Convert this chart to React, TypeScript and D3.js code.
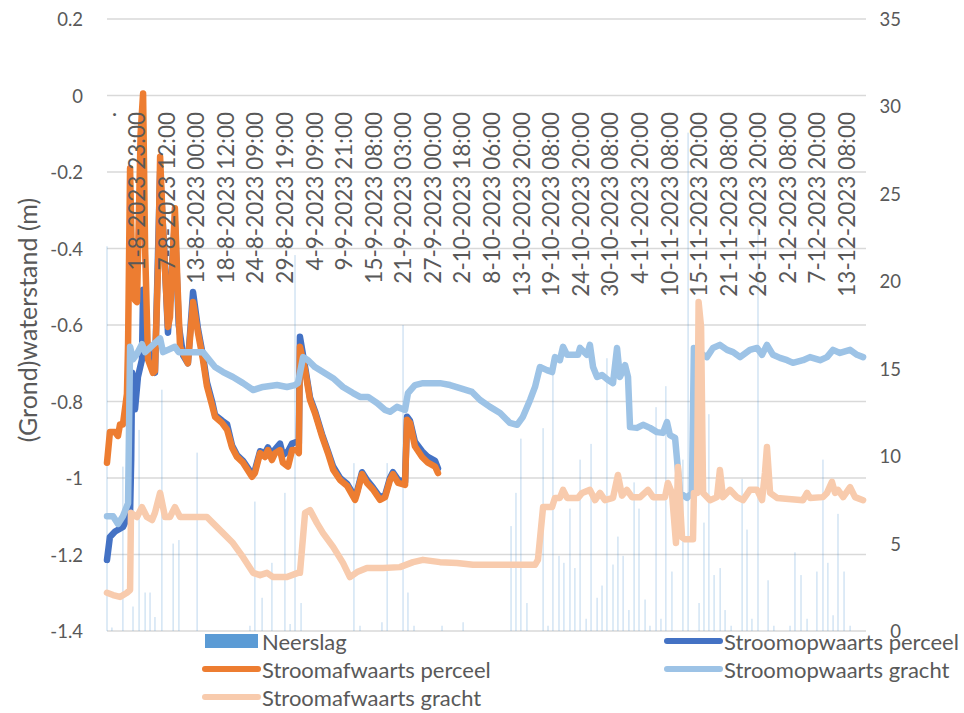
import React from 'react';
import * as d3 from 'd3';

const W = 964;
const H = 713;
const N_CAT = 3387;
const LABEL_STEP = 132;

const xLabels = [
  '.', '1-8-2023 23:00', '7-8-2023 12:00', '13-8-2023 00:00', '18-8-2023 12:00', '24-8-2023 09:00',
  '29-8-2023 19:00', '4-9-2023 09:00', '9-9-2023 21:00', '15-9-2023 08:00', '21-9-2023 03:00',
  '27-9-2023 00:00', '2-10-2023 18:00', '8-10-2023 06:00', '13-10-2023 20:00', '19-10-2023 08:00',
  '24-10-2023 20:00', '30-10-2023 08:00', '4-11-2023 20:00', '10-11-2023 08:00', '15-11-2023 20:00',
  '21-11-2023 08:00', '26-11-2023 20:00', '2-12-2023 08:00', '7-12-2023 20:00', '13-12-2023 08:00',
];
const leftTicks = [0.2, 0, -0.2, -0.4, -0.6, -0.8, -1, -1.2, -1.4];
const rightTicks = [0, 5, 10, 15, 20, 25, 30, 35];

// Neerslag (mm) per category index
const rainCat = [0, 22, 71, 116, 143, 170, 192, 214, 245, 295, 321, 402, 638, 660, 692, 736, 794, 817, 839, 866,
  1102, 1129, 1227, 1250, 1321, 1343, 1370, 1495, 1589, 1803, 1825, 1847, 1874, 1946, 1968, 1990, 2017, 2039,
  2066, 2088, 2111, 2138, 2160, 2187, 2209, 2231, 2258, 2280, 2303, 2329, 2352, 2374, 2401, 2423, 2450, 2472,
  2494, 2521, 2570, 2593, 2642, 2664, 2686, 2709, 2736, 2758, 2785, 2834, 2856, 2878, 2905, 2950, 2976, 3048,
  3070, 3097, 3124, 3168, 3195, 3217, 3240, 3262, 3289, 3316];
const rainMm = [22, 0.2, 9.4, 1.4, 11.5, 2.2, 2.2, 0.8, 13.8, 5.0, 5.2, 10.2, 0.3, 7.4, 1.9, 3.9, 7.9, 0.4, 21.5, 1.6,
  9.6, 0.3, 0.5, 9.6, 17.5, 2.2, 0.3, 0.3, 0.5, 6.0, 7.9, 11.0, 1.6, 11.6, 0.3, 14.9, 4.3, 3.9,
  7.0, 3.6, 9.8, 0.7, 10.7, 1.9, 2.6, 15.6, 3.8, 5.4, 4.3, 1.2, 8.5, 7.0, 1.8, 0.3, 12.8, 0.7,
  14.0, 3.4, 9.8, 28.5, 1.6, 6.2, 12.4, 3.2, 3.6, 1.2, 0.3, 8.7, 5.8, 0.7, 23.3, 2.9, 0.3, 0.3,
  4.5, 3.2, 0.7, 3.4, 9.8, 3.9, 0.9, 6.7, 3.4, 0.3];

// Stroomopwaarts perceel [category, m]
const upPerceel: [number, number][] = [
  [0, -1.214], [13, -1.154], [36, -1.14], [71, -1.128], [103, -1.09], [108, -0.95], [112, -0.725], [125, -0.82],
  [138, -0.736], [156, -0.69], [161, -0.508], [170, -0.62], [192, -0.69], [214, -0.725], [237, -0.2], [255, -0.4],
  [272, -0.62], [303, -0.33], [320, -0.6], [340, -0.68], [361, -0.7], [384, -0.514], [406, -0.61], [428, -0.68],
  [446, -0.75], [469, -0.8], [482, -0.835], [513, -0.85], [536, -0.86], [558, -0.915], [580, -0.94], [607, -0.955],
  [647, -0.99], [660, -0.98], [683, -0.93], [705, -0.935], [718, -0.92], [736, -0.94], [750, -0.925], [772, -0.91],
  [785, -0.94], [808, -0.93], [826, -0.91], [848, -0.905], [856, -0.91], [861, -0.631], [884, -0.71], [906, -0.79],
  [928, -0.825], [959, -0.885], [986, -0.93], [1009, -0.97], [1040, -1.0], [1071, -1.015], [1107, -1.05],
  [1116, -1.035], [1138, -0.985], [1160, -1.005], [1187, -1.025], [1218, -1.05], [1241, -1.045], [1263, -1.0],
  [1276, -0.985], [1299, -1.005], [1330, -1.01], [1339, -0.84], [1352, -0.85], [1374, -0.905], [1406, -0.93],
  [1432, -0.945], [1464, -0.955], [1477, -0.975],
];

// Stroomafwaarts perceel
const downPerceel: [number, number][] = [
  [0, -0.96], [13, -0.88], [36, -0.88], [49, -0.89], [58, -0.86], [71, -0.86], [89, -0.78], [94, -0.65],
  [103, -0.19], [112, -0.45], [125, -0.535], [134, -0.54], [150, -0.1], [161, 0.005], [170, -0.4], [183, -0.69],
  [205, -0.725], [214, -0.72], [230, -0.4], [237, -0.16], [250, -0.35], [272, -0.605], [281, -0.58], [303, -0.295],
  [315, -0.5], [326, -0.657], [361, -0.7], [384, -0.54], [406, -0.62], [428, -0.69], [446, -0.76], [469, -0.81],
  [482, -0.84], [513, -0.856], [536, -0.874], [558, -0.92], [580, -0.945], [607, -0.96], [647, -0.997],
  [660, -0.987], [683, -0.935], [705, -0.945], [718, -0.927], [736, -0.953], [750, -0.935], [772, -0.927],
  [785, -0.96], [808, -0.97], [826, -0.927], [848, -0.927], [856, -0.935], [861, -0.657], [884, -0.718],
  [906, -0.796], [928, -0.83], [959, -0.89], [986, -0.935], [1009, -0.978], [1040, -1.005], [1071, -1.02],
  [1107, -1.057], [1116, -1.04], [1138, -0.99], [1160, -1.013], [1187, -1.03], [1218, -1.057], [1241, -1.05],
  [1263, -1.005], [1276, -0.99], [1299, -1.013], [1330, -1.018], [1339, -0.848], [1352, -0.856], [1374, -0.917],
  [1406, -0.945], [1432, -0.96], [1464, -0.97], [1477, -0.987],
];

// Stroomopwaarts gracht
const upGracht: [number, number][] = [
  [0, -1.1], [27, -1.1], [49, -1.12], [71, -1.1], [94, -1.066], [103, -0.657], [116, -0.69], [134, -0.675],
  [156, -0.65], [170, -0.671], [237, -0.635], [250, -0.671], [303, -0.657], [320, -0.671], [428, -0.671],
  [446, -0.684], [482, -0.71], [518, -0.723], [562, -0.736], [607, -0.752], [652, -0.77], [696, -0.762],
  [759, -0.757], [803, -0.762], [839, -0.757], [852, -0.752], [875, -0.684], [897, -0.692], [928, -0.71],
  [964, -0.723], [1009, -0.739], [1053, -0.762], [1098, -0.778], [1129, -0.788], [1165, -0.788], [1205, -0.804],
  [1241, -0.822], [1263, -0.827], [1294, -0.814], [1330, -0.822], [1343, -0.778], [1374, -0.757], [1410, -0.752],
  [1486, -0.752], [1531, -0.757], [1575, -0.765], [1629, -0.775], [1665, -0.796], [1709, -0.814], [1754, -0.83],
  [1798, -0.856], [1830, -0.861], [1856, -0.84], [1888, -0.796], [1910, -0.762], [1932, -0.71], [1963, -0.718],
  [1986, -0.723], [1999, -0.684], [2021, -0.692], [2035, -0.657], [2053, -0.678], [2102, -0.678], [2111, -0.66],
  [2142, -0.678], [2155, -0.652], [2169, -0.71], [2187, -0.736], [2209, -0.731], [2236, -0.744], [2258, -0.752],
  [2276, -0.66], [2289, -0.736], [2312, -0.705], [2325, -0.736], [2334, -0.867], [2365, -0.869], [2392, -0.861],
  [2423, -0.869], [2454, -0.88], [2481, -0.882], [2499, -0.854], [2512, -0.888], [2535, -0.895], [2548, -0.98],
  [2557, -1.039], [2588, -1.052], [2610, -1.039], [2619, -0.66], [2646, -0.673], [2677, -0.684], [2704, -0.66],
  [2735, -0.652], [2767, -0.665], [2794, -0.671], [2825, -0.684], [2869, -0.665], [2901, -0.66], [2923, -0.678],
  [2945, -0.652], [2972, -0.678], [3003, -0.686], [3035, -0.692], [3061, -0.699], [3106, -0.692], [3137, -0.684],
  [3182, -0.692], [3213, -0.684], [3240, -0.665], [3271, -0.673], [3316, -0.665], [3347, -0.678], [3374, -0.684],
];

// Stroomafwaarts gracht
const downGracht: [number, number][] = [
  [0, -1.3], [27, -1.306], [58, -1.311], [89, -1.3], [103, -1.293], [107, -1.091], [134, -1.102], [156, -1.076],
  [178, -1.102], [201, -1.11], [214, -1.091], [237, -1.039], [259, -1.102], [281, -1.102], [303, -1.076],
  [326, -1.102], [446, -1.102], [473, -1.118], [518, -1.144], [562, -1.17], [607, -1.207], [652, -1.248],
  [683, -1.254], [714, -1.248], [741, -1.259], [803, -1.259], [852, -1.248], [861, -1.248], [884, -1.091],
  [906, -1.084], [937, -1.118], [964, -1.144], [1009, -1.18], [1053, -1.222], [1084, -1.259], [1116, -1.246],
  [1160, -1.235], [1232, -1.235], [1307, -1.233], [1366, -1.22], [1410, -1.214], [1486, -1.22], [1562, -1.222],
  [1633, -1.227], [1700, -1.227], [1798, -1.227], [1910, -1.227], [1923, -1.214], [1946, -1.076], [1986, -1.076],
  [1999, -1.052], [2021, -1.052], [2035, -1.031], [2053, -1.052], [2102, -1.052], [2120, -1.039], [2155, -1.031],
  [2178, -1.058], [2200, -1.039], [2222, -1.058], [2258, -1.052], [2280, -0.992], [2298, -1.046], [2320, -1.031],
  [2343, -1.05], [2379, -1.05], [2414, -1.031], [2437, -1.05], [2490, -1.05], [2503, -1.013], [2521, -1.039],
  [2539, -1.17], [2548, -0.971], [2566, -1.155], [2579, -1.16], [2615, -1.16], [2619, -1.039], [2633, -1.039],
  [2640, -0.54], [2651, -0.605], [2660, -1.039], [2691, -1.058], [2722, -1.05], [2735, -0.979], [2749, -1.05],
  [2780, -1.031], [2811, -1.05], [2838, -1.058], [2869, -1.031], [2901, -1.031], [2923, -1.058], [2936, -0.987],
  [2945, -0.919], [2959, -1.039], [2990, -1.052], [3106, -1.058], [3124, -1.039], [3137, -1.052], [3195, -1.05],
  [3213, -1.039], [3235, -1.01], [3249, -1.039], [3262, -1.031], [3285, -1.05], [3316, -1.024], [3338, -1.05],
  [3374, -1.058],
];

const seriesNames = ['Neerslag', 'Stroomopwaarts perceel', 'Stroomafwaarts perceel', 'Stroomopwaarts gracht', 'Stroomafwaarts gracht'];
const seriesColors = ['#5B9BD5', '#4472C4', '#ED7D31', '#9DC3E6', '#F8CBAD'];

const FONT = 'Lato, "Noto Sans", sans-serif';
const TXT = '#595959';

export default function App() {
  const left = 107, right = 866, top = 19, bottom = 631;
  const x = d3.scaleLinear().domain([0, N_CAT]).range([left, right]);
  const yL = d3.scaleLinear().domain([-1.4, 0.2]).range([bottom, top]);
  const yR = d3.scaleLinear().domain([0, 35]).range([bottom, top]);
  const line = d3.line<[number, number]>().x(d => x(d[0])).y(d => yL(d[1]));
  const lines = [upPerceel, downPerceel, upGracht, downGracht];

  return (
    <svg width={W} height={H} style={{ position: 'absolute', left: 0, top: 0, background: '#fff' }} fontFamily={FONT}>
      <rect width={W} height={H} fill="#fff" />
      {leftTicks.map(t => (
        <line key={'g' + t} x1={left} x2={right} y1={yL(t)} y2={yL(t)} stroke="#d9d9d9" strokeWidth={1.4} />
      ))}
      {rainCat.map((c, i) => (
        <rect key={'r' + i} x={x(c) - 0.5} width={1} y={yR(rainMm[i])} height={bottom - yR(rainMm[i])}
          fill="#5B9BD5" opacity={0.4} />
      ))}
      {lines.map((d, i) => (
        <path key={'l' + i} d={line(d) || ''} fill="none" stroke={seriesColors[i + 1]} strokeWidth={6.5}
          strokeLinejoin="round" strokeLinecap="round" />
      ))}
      {leftTicks.map(t => (
        <text key={'lt' + t} x={83} y={yL(t)} textAnchor="end" dominantBaseline="central" fontSize={18.5} fill={TXT}>
          {d3.format('~g')(t).replace('−', '-')}
        </text>
      ))}
      {rightTicks.map(t => (
        <text key={'rt' + t} x={901} y={yR(t)} textAnchor="end" dominantBaseline="central" fontSize={18.5} fill={TXT}>
          {t}
        </text>
      ))}
      {xLabels.map((lab, k) => (
        <text key={'x' + k} transform={`translate(${x(k * LABEL_STEP)},112) rotate(-90)`} textAnchor="end"
          dominantBaseline="central" fontSize={22.5} fill={TXT}>
          {lab}
        </text>
      ))}
      <text transform="translate(27,320) rotate(-90)" textAnchor="middle" dominantBaseline="central" fontSize={25} fill={TXT}>
        (Grond)waterstand (m)
      </text>
      {seriesNames.map((name, i) => {
        const col = i % 2;
        const row = Math.floor(i / 2);
        const sx = col === 0 ? 205 : 667;
        const ly = 641 + row * 28;
        return (
          <g key={'lg' + i}>
            {i === 0 ? (
              <rect x={sx} y={ly - 7} width={53} height={14} fill={seriesColors[0]} />
            ) : (
              <line x1={sx} x2={sx + 53} y1={ly} y2={ly} stroke={seriesColors[i]} strokeWidth={6} strokeLinecap="round" />
            )}
            <text x={sx + 57} y={ly} dominantBaseline="central" fontSize={22} fill={TXT}>{name}</text>
          </g>
        );
      })}
    </svg>
  );
}
